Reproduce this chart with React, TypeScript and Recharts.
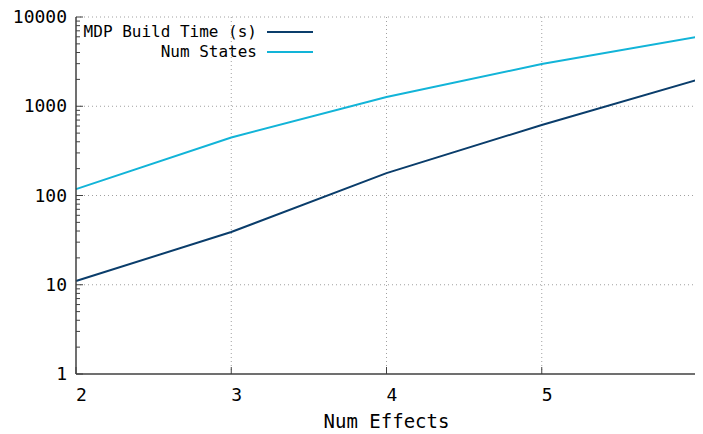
import React from 'react';
import { LineChart, Line, XAxis, YAxis, ReferenceLine, Customized } from 'recharts';

const numEffects = [2, 3, 4, 5, 6];
const buildTime = [11, 39, 178, 617, 1970];
const numStates = [118, 447, 1270, 2975, 5970];
const xTicks = [2, 3, 4, 5, 6];
const yMajor = [1, 10, 100, 1000, 10000];
const yTicks = [1, 2, 3, 4, 5, 6, 7, 8, 9, 10, 20, 30, 40, 50, 60, 70, 80, 90, 100, 200, 300, 400, 500, 600, 700, 800, 900, 1000, 2000, 3000, 4000, 5000, 6000, 7000, 8000, 9000, 10000];
const seriesNames = ['MDP Build Time (s)', 'Num States'];
const colors = ['#0a3d6b', '#12b4d8'];

const data = numEffects.map((x, i) => ({ x, build: buildTime[i], states: numStates[i] }));

const FONT = '"DejaVu Sans Mono", monospace';

const YTick = (props: any) => {
  const { x, y, payload } = props;
  const v = payload.value;
  const major = yMajor.includes(v);
  return (
    <g>
      <line x1={x} x2={x + (major ? 7 : 4)} y1={y} y2={y} stroke="#404040" strokeWidth={1} />
      {major && (
        <text x={x - 9} y={y} dy={6} textAnchor="end" fontFamily={FONT} fontSize={18} fill="#000">
          {v}
        </text>
      )}
    </g>
  );
};

const XTick = (props: any) => {
  const { x, y, payload } = props;
  return (
    <g>
      <line x1={x} x2={x} y1={y} y2={y - 7} stroke="#404040" strokeWidth={1} />
      <text x={x} y={y} dy={27} textAnchor="start" fontFamily={FONT} fontSize={18} fill="#000">
        {payload.value}
      </text>
    </g>
  );
};

const LegendBox = () => (
  <g>
    {seriesNames.map((n, i) => (
      <g key={n}>
        <text x={249} y={24 + i * 20} dy={5} textAnchor="end" fontFamily={FONT} fontSize={16} fill="#000">
          {n}
        </text>
        <line x1={259} x2={305} y1={24 + i * 20} y2={24 + i * 20} stroke={colors[i]} strokeWidth={2} />
      </g>
    ))}
  </g>
);

export default function App() {
  return (
    <LineChart width={695} height={426} data={data} margin={{ top: 9, right: 6, left: 0, bottom: 0 }}>
      {[10, 100, 1000, 10000].map((v) => (
        <ReferenceLine key={'h' + v} y={v} stroke="#a0a0a0" strokeDasharray="1 3" strokeWidth={1} />
      ))}
      {[3, 4, 5, 6].map((v) => (
        <ReferenceLine key={'v' + v} x={v} stroke="#a0a0a0" strokeDasharray="1 3" strokeWidth={1} />
      ))}
      <XAxis
        dataKey="x"
        type="number"
        domain={[2, 6]}
        ticks={xTicks}
        tickSize={0}
        tickMargin={0}
        tick={<XTick />}
        axisLine={{ stroke: '#404040', strokeWidth: 1.5 }}
        height={60}
        interval={0}
        label={{ value: 'Num Effects', position: 'insideBottom', offset: 6, style: { fontFamily: FONT, fontSize: 19, fill: '#000', textAnchor: 'middle' } }}
      />
      <YAxis
        scale="log"
        domain={[1, 10000]}
        type="number"
        ticks={yTicks}
        interval={0}
        allowDataOverflow
        tickSize={0}
        tickMargin={0}
        tick={<YTick />}
        axisLine={{ stroke: '#404040', strokeWidth: 1.5 }}
        width={68}
      />
      <Line dataKey="build" stroke={colors[0]} strokeWidth={2} dot={false} isAnimationActive={false} />
      <Line dataKey="states" stroke={colors[1]} strokeWidth={2} dot={false} isAnimationActive={false} />
      <Customized component={<LegendBox />} />
    </LineChart>
  );
}
